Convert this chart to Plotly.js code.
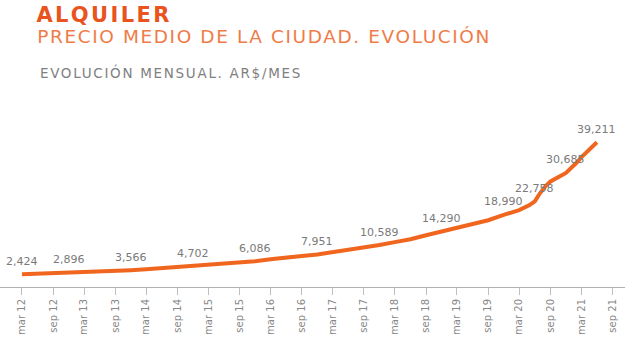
<!DOCTYPE html>
<html><head><meta charset="utf-8">
<script src="https://cdn.plot.ly/plotly-3.0.1.min.js"></script>
<style>html,body{margin:0;padding:0;background:#fff;}#chart{width:640px;height:338px;}
g.annotation[data-index="12"] text{letter-spacing:2.4px;}
g.annotation[data-index="13"] text{letter-spacing:1.6px;}
g.annotation[data-index="14"] text{letter-spacing:1.7px;}
</style>
</head><body><div id="chart"></div>
<script>
const dates = ['2012-03-01','2012-06-01','2012-09-01','2012-12-01','2013-03-01','2013-06-01','2013-09-01','2013-12-01',
'2014-03-01','2014-06-01','2014-09-01','2014-12-01','2015-03-01','2015-06-01','2015-09-01','2015-12-01',
'2016-03-01','2016-06-01','2016-09-01','2016-12-01','2017-03-01','2017-06-01','2017-09-01','2017-12-01',
'2018-03-01','2018-06-01','2018-09-01','2018-12-01','2019-03-01','2019-06-01','2019-09-01','2019-12-01',
'2020-03-01','2020-05-01','2020-06-01','2020-07-01','2020-08-01','2020-09-01','2020-10-01','2020-11-01','2020-12-01',
'2021-01-01','2021-02-01','2021-03-01','2021-04-01','2021-05-01','2021-06-01'];
const values = [2424,2560,2720,2896,3050,3220,3390,3566,
3820,4120,4420,4702,5000,5330,5700,6086,
6600,7150,7550,7951,8600,9200,9800,10589,
11400,12200,13300,14290,15300,16300,17500,18990,
20300,21700,22758,25000,26900,28300,29200,29900,30685,
32000,33500,35000,36500,37900,39211];
const labelDates = ['2012-03-01','2012-12-01','2013-12-01','2014-12-01','2015-12-01','2016-12-01','2017-12-01','2018-12-01','2019-12-01','2020-06-01','2020-12-01','2021-06-01'];
const labelValues = [2424,2896,3566,4702,6086,7951,10589,14290,18990,22758,30685,39211];
const tickVals = ['2012-03-01','2012-09-01','2013-03-01','2013-09-01','2014-03-01','2014-09-01','2015-03-01','2015-09-01','2016-03-01','2016-09-01',
'2017-03-01','2017-09-01','2018-03-01','2018-09-01','2019-03-01','2019-09-01','2020-03-01','2020-09-01','2021-03-01','2021-09-01'];
const tickText = ['mar 12','sep 12','mar 13','sep 13','mar 14','sep 14','mar 15','sep 15','mar 16','sep 16',
'mar 17','sep 17','mar 18','sep 18','mar 19','sep 19','mar 20','sep 20','mar 21','sep 21'];
const titleMain = 'ALQUILER';
const titleSub = 'PRECIO MEDIO DE LA CIUDAD. EVOLUCIÓN';
const titleUnit = 'EVOLUCIÓN MENSUAL. AR$/MES';

const plotTop = 110, plotBottom = 287;
const py = Y => (plotBottom - Y) / (plotBottom - plotTop);

const annotations = labelDates.map((d, i) => ({
  x: d, y: labelValues[i], xref: 'x', yref: 'y', showarrow: false,
  text: labelValues[i].toLocaleString('en-US'), yshift: 13,
  font: {family: 'DejaVu Sans', size: 11, color: '#7a7a7a'}
}));
annotations.push(
  {xref:'paper', yref:'paper', x: 44/625, y: py(15), xanchor:'left', yanchor:'middle', showarrow:false,
   text: '<b>'+titleMain+'</b>', font:{family:'DejaVu Sans', size:21, color:'#E9531D'}},
  {xref:'paper', yref:'paper', x: 64/625, y: py(37), xanchor:'left', yanchor:'middle', showarrow:false,
   text: titleSub, font:{family:'DejaVu Sans', size:18.5, color:'#EF7C48'}},
  {xref:'paper', yref:'paper', x: 60/625, y: py(72), xanchor:'left', yanchor:'middle', showarrow:false,
   text: titleUnit, font:{family:'DejaVu Sans', size:13.5, color:'#808080'}}
);

const trace = {x: dates, y: values, type: 'scatter', mode: 'lines',
  line: {color: '#F0661E', width: 4}, hoverinfo: 'skip'};

const layout = {
  width: 640, height: 338,
  margin: {l: 0, r: 15, t: plotTop, b: 338 - plotBottom},
  paper_bgcolor: '#fff', plot_bgcolor: '#fff', showlegend: false,
  xaxis: {type: 'date', range: ['2011-10-24','2021-11-13'], tickvals: tickVals, ticktext: tickText,
    tickangle: -90, tickfont: {family: 'DejaVu Sans', size: 10, color: '#888'},
    showgrid: false, zeroline: false, showline: true, linecolor: '#b0b0b0', linewidth: 1,
    ticks: 'outside', ticklen: 7, tickcolor: '#c0c0c0', fixedrange: true},
  yaxis: {range: [-1115, 48216], visible: false, showgrid: false, zeroline: false, fixedrange: true},
  annotations: annotations
};
Plotly.newPlot('chart', [trace], layout, {displayModeBar: false, staticPlot: true});
</script></body></html>
